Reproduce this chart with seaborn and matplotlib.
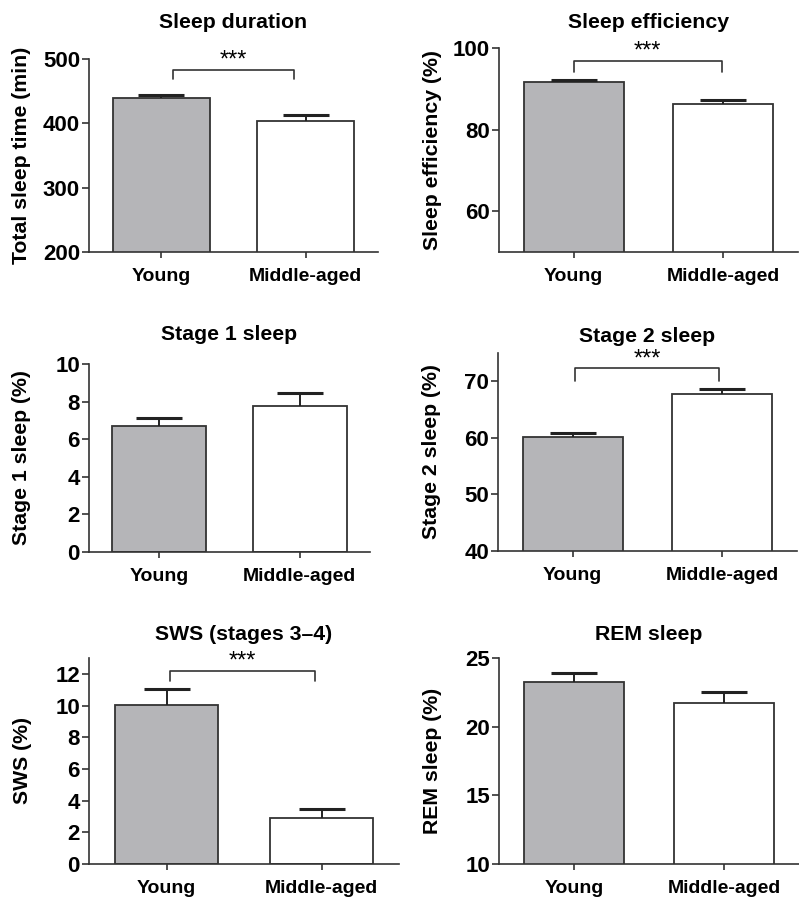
import numpy as np
import matplotlib
matplotlib.use("Agg")
import matplotlib.pyplot as plt
import seaborn as sns

sns.set_style("ticks")
plt.rcParams["font.family"] = ["Liberation Sans", "DejaVu Sans"]
plt.rcParams["text.color"] = "black"
plt.rcParams["xtick.labelcolor"] = "black"
plt.rcParams["ytick.labelcolor"] = "black"

groups = ["Young", "Middle-aged"]

titles = ["Sleep duration", "Sleep efficiency", "Stage 1 sleep",
          "Stage 2 sleep", "SWS (stages 3\u20134)", "REM sleep"]
ylabels = ["Total sleep time (min)", "Sleep efficiency (%)", "Stage 1 sleep (%)",
           "Stage 2 sleep (%)", "SWS (%)", "REM sleep (%)"]

# group means and SEM per outcome (Young, Middle-aged)
total_sleep = [439, 404]
total_sleep_sem = [5, 9]
efficiency = [91.6, 86.3]
efficiency_sem = [0.6, 1.0]
stage1 = [6.7, 7.75]
stage1_sem = [0.44, 0.73]
stage2 = [60.1, 67.7]
stage2_sem = [0.8, 0.9]
sws = [10.05, 2.9]
sws_sem = [1.0, 0.58]
rem = [23.25, 21.7]
rem_sem = [0.65, 0.8]

means = [total_sleep, efficiency, stage1, stage2, sws, rem]
sems = [total_sleep_sem, efficiency_sem, stage1_sem, stage2_sem, sws_sem, rem_sem]

ylims = [(200, 500), (50, 100), (0, 10), (40, 75), (0, 13), (10, 25)]
yticks = [[200, 300, 400, 500], [60, 80, 100], [0, 2, 4, 6, 8, 10],
          [40, 50, 60, 70], [0, 2, 4, 6, 8, 10, 12], [10, 15, 20, 25]]

# significance brackets: (left x, right x, bracket y, leg bottom y) or None
brackets = [(0.083, 0.917, 483.5, 469), (0.0, 0.99, 96.9, 94.2), None,
            (0.014, 0.98, 72.3, 70.0), (0.02, 0.955, 12.2, 11.58), None]
sig_label = "***"

W, H = 799, 898
# axes boxes in pixels: left, right, top, bottom
boxes = [(89, 378, 59, 252), (499, 798, 48, 252),
         (89, 370, 364, 552), (498, 797, 353, 551),
         (89, 399, 658, 864), (499, 799, 658, 864)]
title_y = [22, 23, 335, 336, 634, 635]
ylabel_x = [22, 432, 22, 431, 22, 432]

line_col = "#333333"
young_col = "#b4b5b8"

fig = plt.figure(figsize=(W / 100, H / 100), dpi=100)

for i in range(6):
    l, r, t, b = boxes[i]
    ax = fig.add_axes([l / W, 1 - b / H, (r - l) / W, (b - t) / H])
    sns.barplot(x=groups, y=means[i], hue=groups, palette=[young_col, "white"],
                width=0.67, edgecolor=line_col, linewidth=1.3, legend=False,
                errorbar=None, ax=ax)
    eb = ax.errorbar([0, 1], means[i], yerr=[[0, 0], sems[i]], fmt="none",
                     ecolor="#222222", elinewidth=1.4, capsize=16.5,
                     capthick=2.2, clip_on=False)
    # only the upper cap is shown
    eb.lines[1][0].set_visible(False)

    ax.set_xlim(-0.5, 1.5)
    ax.set_ylim(*ylims[i])
    ax.set_yticks(yticks[i])
    ax.set_ylabel("")
    ax.set_xlabel("")
    for side in ["top", "right"]:
        ax.spines[side].set_visible(False)
    for side in ["left", "bottom"]:
        ax.spines[side].set_color(line_col)
        ax.spines[side].set_linewidth(1.2)
    ax.tick_params(axis="y", direction="out", length=5, width=1.2,
                   color=line_col, labelsize=16, pad=1.5)
    ax.tick_params(axis="x", direction="out", length=4.5, width=1.2,
                   color=line_col, labelsize=14, pad=7)
    for lab in ax.get_xticklabels() + ax.get_yticklabels():
        lab.set_fontweight("bold")

    if brackets[i] is not None:
        x0, x1, yb, yl = brackets[i]
        ax.plot([x0, x0, x1, x1], [yl, yb, yb, yl], color=line_col,
                lw=1.2, clip_on=False)
        ax.annotate(sig_label, xy=((x0 + x1) / 2, yb), xytext=(0, 2),
                    textcoords="offset points", ha="center", va="baseline",
                    fontsize=17, color="black", annotation_clip=False)

    fig.text((l + r) / 2 / W, 1 - title_y[i] / H, titles[i], ha="center",
             va="center", fontsize=15.3, fontweight="bold")
    fig.text(ylabel_x[i] / W, 1 - (t + b) / 2 / H, ylabels[i], ha="center",
             va="center", rotation=90, fontsize=15.3, fontweight="bold")

fig.savefig("out.png", dpi=100, facecolor="white")
